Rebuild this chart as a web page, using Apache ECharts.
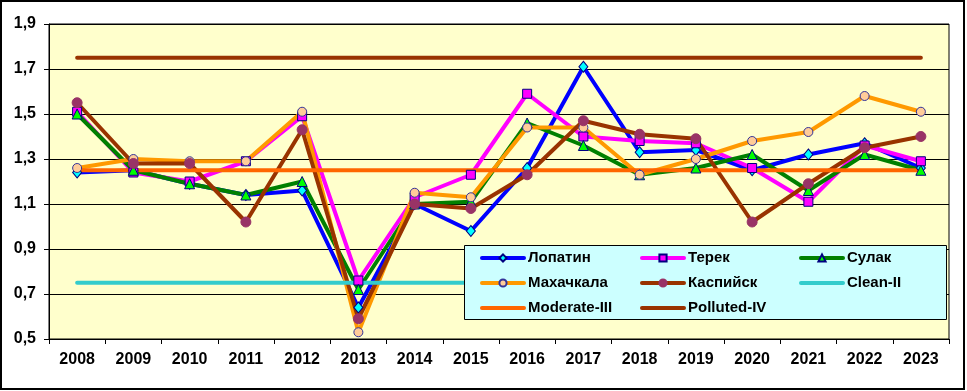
<!DOCTYPE html>
<html>
<head>
<meta charset="utf-8">
<script src="https://cdn.jsdelivr.net/npm/echarts@6/dist/echarts.min.js"></script>
<style>
html,body{margin:0;padding:0;background:#fff;}
#c{width:967px;height:391px;}
</style>
</head>
<body>
<div id="c"></div>
<script>
const years = ['2008','2009','2010','2011','2012','2013','2014','2015','2016','2017','2018','2019','2020','2021','2022','2023'];
const lopatin   = [1.24,1.25,1.19,1.14,1.16,0.64,1.10,0.98,1.26,1.71,1.33,1.34,1.25,1.32,1.37,1.26];
const terek     = [1.51,1.24,1.20,1.29,1.49,0.76,1.13,1.23,1.59,1.40,1.38,1.37,1.26,1.11,1.36,1.29];
const sulak     = [1.50,1.25,1.19,1.14,1.20,0.72,1.10,1.11,1.46,1.36,1.23,1.26,1.32,1.16,1.32,1.25];
const makhachkala = [1.26,1.30,1.29,1.29,1.51,0.53,1.15,1.13,1.44,1.44,1.23,1.30,1.38,1.42,1.58,1.51];
const kaspiysk  = [1.55,1.28,1.28,1.02,1.43,0.59,1.10,1.08,1.23,1.47,1.41,1.39,1.02,1.19,1.35,1.40];
const cleanII   = [0.75,0.75,0.75,0.75,0.75,0.75,0.75,0.75,0.75,0.75,0.75,0.75,0.75,0.75,0.75,0.75];
const moderateIII = [1.25,1.25,1.25,1.25,1.25,1.25,1.25,1.25,1.25,1.25,1.25,1.25,1.25,1.25,1.25,1.25];
const pollutedIV  = [1.75,1.75,1.75,1.75,1.75,1.75,1.75,1.75,1.75,1.75,1.75,1.75,1.75,1.75,1.75,1.75];
const yMin = 0.5, yMax = 1.9, yStep = 0.2;

const FONT = '"Liberation Sans", Arial, sans-serif';
const chart = echarts.init(document.getElementById('c'), null, {renderer: 'canvas'});

function dataSeries(name, data, color, symbol, symColor, size, border) {
  return {
    name: name, type: 'line', data: data,
    symbol: symbol, symbolSize: size, showSymbol: true, showAllSymbol: true,
    lineStyle: {color: color, width: 4, cap: 'round', join: 'round'},
    itemStyle: {color: symColor, borderColor: border, borderWidth: 1},
    emphasis: {disabled: true}, animation: false, z: 2
  };
}
function refSeries(name, data, color) {
  return {
    name: name, type: 'line', data: data, symbol: 'none',
    lineStyle: {color: color, width: 4, cap: 'round'},
    itemStyle: {color: color},
    emphasis: {disabled: true}, animation: false, z: 2
  };
}
const legendCommon = {
  orient: 'vertical', itemWidth: 42, itemHeight: 9, itemGap: 9, padding: 0,
  lineStyle: {width: 4, cap: 'round'},
  textStyle: {fontFamily: FONT, fontWeight: 'bold', fontSize: 15, color: '#000', lineHeight: 16, padding: [0,0,0,-1]},
  top: 250, z: 10, selectedMode: false
};
const hiddenMark = {opacity: 0};

chart.setOption({
  animation: false,
  backgroundColor: '#ffffff',
  grid: {left: 49, right: 18, top: 24, bottom: 52, show: true, backgroundColor: '#FFFFCC', borderColor: '#000', borderWidth: 1},
  xAxis: {
    type: 'category', data: years, boundaryGap: true,
    axisLine: {lineStyle: {color: '#000', width: 1}},
    axisTick: {show: true, length: 5, lineStyle: {color: '#000'}},
    axisLabel: {fontFamily: FONT, fontWeight: 'bold', fontSize: 16, color: '#000', margin: 13}
  },
  yAxis: {
    type: 'value', min: yMin, max: yMax, interval: yStep,
    axisLine: {show: true, lineStyle: {color: '#000', width: 1}},
    axisTick: {show: true, length: 5, lineStyle: {color: '#000'}},
    splitLine: {show: true, lineStyle: {color: '#000', width: 1}},
    axisLabel: {fontFamily: FONT, fontWeight: 'bold', fontSize: 16, color: '#000', margin: 13,
      formatter: v => v.toFixed(1).replace('.', ',')}
  },
  legend: [
    Object.assign({}, legendCommon, {left: 480, data: ['Лопатин','Махачкала',{name: 'Moderate-III', itemStyle: hiddenMark}]}),
    Object.assign({}, legendCommon, {left: 640, data: ['Терек','Каспийск',{name: 'Polluted-IV', itemStyle: hiddenMark}]}),
    Object.assign({}, legendCommon, {left: 799, data: ['Сулак',{name: 'Clean-II', itemStyle: hiddenMark}]})
  ],
  graphic: [
    {type: 'rect', shape: {x: 464.5, y: 245.5, width: 482, height: 74}, style: {fill: '#CCFFFF', stroke: '#000', lineWidth: 1}, z: 9, silent: true},
    {type: 'rect', shape: {x: 1, y: 1, width: 963, height: 388}, style: {fill: 'none', stroke: '#000', lineWidth: 2}, z: 20, silent: true}
  ],
  series: [
    dataSeries('Лопатин', lopatin, '#0000FF', 'diamond', '#00FFFF', [9,11], '#000080'),
    dataSeries('Терек', terek, '#FF00FF', 'rect', '#FF00FF', 9, '#000080'),
    dataSeries('Сулак', sulak, '#008000', 'triangle', '#00FF00', 10, '#000080'),
    dataSeries('Махачкала', makhachkala, '#FF9900', 'circle', '#FFCC99', 9, '#333399'),
    dataSeries('Каспийск', kaspiysk, '#993300', 'circle', '#993366', 10, '#993366'),
    refSeries('Clean-II', cleanII, '#33CCCC'),
    refSeries('Moderate-III', moderateIII, '#FF6600'),
    refSeries('Polluted-IV', pollutedIV, '#993300')
  ]
});
</script>
</body>
</html>
